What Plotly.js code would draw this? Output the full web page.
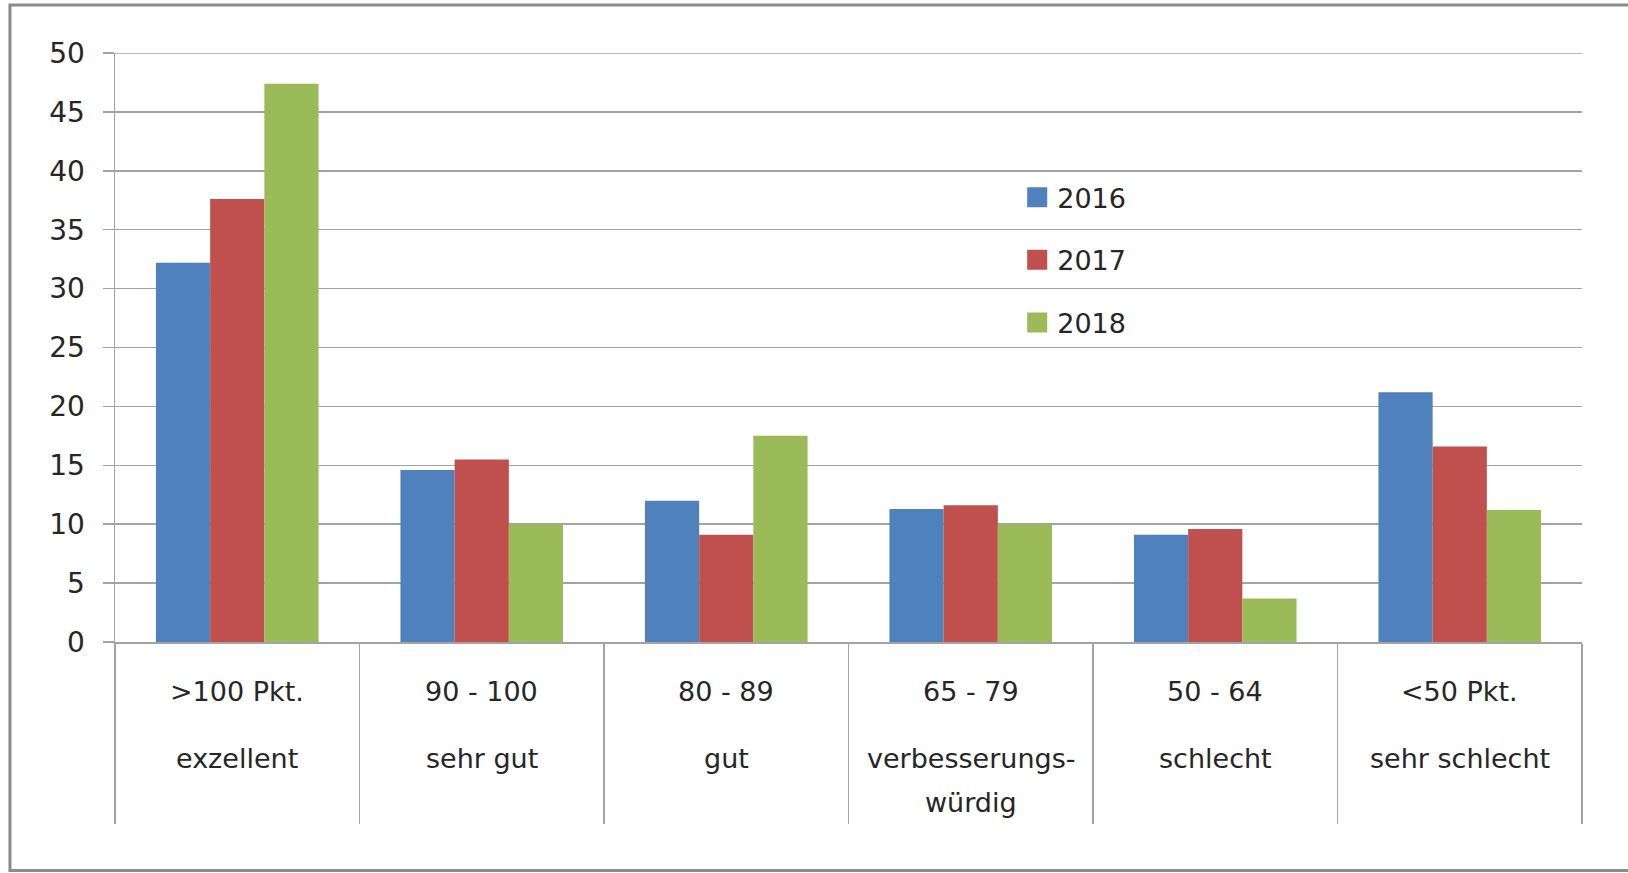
<!DOCTYPE html>
<html>
<head>
<meta charset="utf-8">
<script src="https://cdn.plot.ly/plotly-3.0.1.min.js"></script>
<style>
html,body{margin:0;padding:0;background:#fff;}
#chart{width:1628px;height:873px;}
</style>
</head>
<body>
<div id="chart"></div>
<script>
const categories = ["c1","c2","c3","c4","c5","c6"];
const labelLine1 = [">100 Pkt.", "90 - 100", "80 - 89", "65 - 79", "50 - 64", "<50 Pkt."];
const labelLine2 = ["exzellent", "sehr gut", "gut", "verbesserungs-", "schlecht", "sehr schlecht"];
const labelLine3 = ["", "", "", "würdig", "", ""];
const years = ["2016", "2017", "2018"];
const values2016 = [32.2, 14.6, 12.0, 11.3, 9.1, 21.2];
const values2017 = [37.6, 15.5, 9.1, 11.6, 9.6, 16.6];
const values2018 = [47.4, 10.0, 17.5, 10.0, 3.7, 11.2];
const yTicks = [0, 5, 10, 15, 20, 25, 30, 35, 40, 45, 50];
const yMax = 50;

const colors = ["#4f81bd", "#c0504d", "#9bbb59"];
const series = [values2016, values2017, values2018];
const FONT = "DejaVu Sans, sans-serif";
const TXT = "#262626";
const GRID = "#a3a3a3";

const traces = series.map((vals, i) => ({
  type: "bar",
  name: years[i],
  x: categories,
  y: vals,
  marker: {color: colors[i], line: {width: 0}},
  legendgroup: years[i],
  hoverinfo: "y"
}));

const annotations = [];
categories.forEach((c, i) => {
  annotations.push({xref: "x", yref: "paper", x: c, y: -0.0845, text: labelLine1[i],
    showarrow: false, yanchor: "middle", xanchor: "center", font: {family: FONT, size: 27, color: TXT}});
  annotations.push({xref: "x", yref: "paper", x: c, y: -0.197, text: labelLine2[i],
    showarrow: false, yanchor: "middle", xanchor: "center", font: {family: FONT, size: 27, color: TXT}});
  if (labelLine3[i]) {
    annotations.push({xref: "x", yref: "paper", x: c, y: -0.272, text: labelLine3[i],
      showarrow: false, yanchor: "middle", xanchor: "center", font: {family: FONT, size: 27, color: TXT}});
  }
});

const layout = {
  width: 1628, height: 873,
  margin: {l: 115, r: 46, t: 53, b: 231, pad: 0},
  paper_bgcolor: "#ffffff",
  plot_bgcolor: "#ffffff",
  barmode: "group",
  bargap: 0.335,
  bargroupgap: 0,
  showlegend: true,
  legend: {
    x: 0.615, y: 0.796, xanchor: "left", yanchor: "top",
    font: {family: FONT, size: 27, color: TXT},
    bgcolor: "rgba(0,0,0,0)",
    tracegroupgap: 24.5,
    traceorder: "grouped"
  },
  xaxis: {
    type: "category",
    range: [-0.5, 5.5],
    showticklabels: false,
    showgrid: false,
    showline: true, linecolor: GRID, linewidth: 1.5,
    ticks: "outside", tickson: "boundaries", ticklen: 180, tickwidth: 1.5, tickcolor: GRID,
    zeroline: false, fixedrange: true
  },
  yaxis: {
    range: [0, yMax],
    tickvals: yTicks,
    ticktext: yTicks.map(String),
    showgrid: true, gridcolor: GRID, gridwidth: 1.5,
    showline: true, linecolor: GRID, linewidth: 1.5,
    ticks: "outside", ticklen: 11, tickwidth: 1.5, tickcolor: GRID,
    ticklabelstandoff: 12,
    tickfont: {family: FONT, size: 28, color: TXT},
    zeroline: false, fixedrange: true
  },
  annotations: annotations,
  shapes: [
    {type: "line", xref: "paper", yref: "y", x0: 0, x1: 1, y0: yMax, y1: yMax,
     line: {color: GRID, width: 1.5}, layer: "below"},
    {type: "rect", xref: "paper", yref: "paper",
     x0: -0.0716, x1: 1.2, y0: -0.3878, y1: 1.0815,
     line: {color: "#8a8a8a", width: 3}, fillcolor: "rgba(0,0,0,0)", layer: "above"}
  ]
};

Plotly.newPlot("chart", traces, layout, {displayModeBar: false, staticPlot: true}).then(gd => {
  // enlarge the legend swatches to match the reference's larger squares
  gd.querySelectorAll(".legend .legendpoints path").forEach(p => {
    const t = p.getAttribute("transform") || "";
    p.setAttribute("transform", t + " scale(1.67)");
  });
});
</script>
</body>
</html>
